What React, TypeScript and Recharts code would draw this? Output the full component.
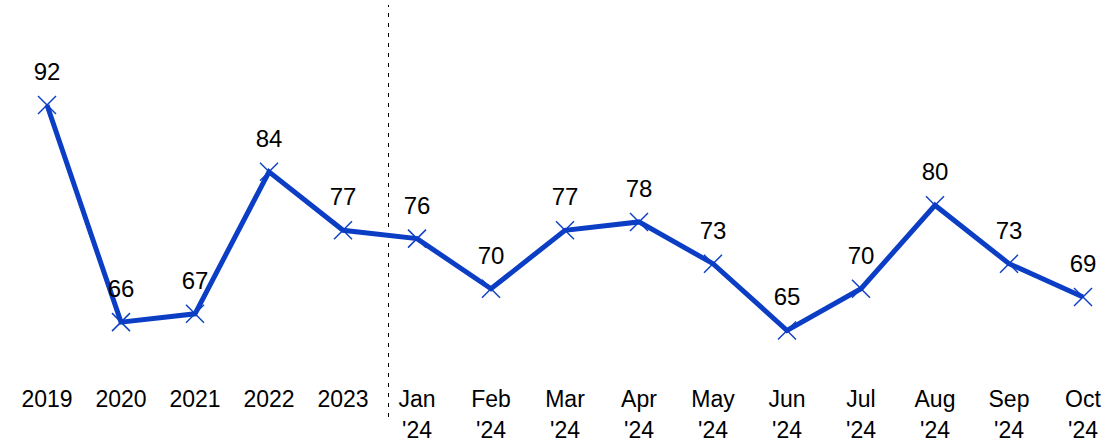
import { LineChart, Line, XAxis, YAxis, ReferenceLine, LabelList } from "recharts";

const periods = [
  "2019", "2020", "2021", "2022", "2023",
  "Jan '24", "Feb '24", "Mar '24", "Apr '24", "May '24",
  "Jun '24", "Jul '24", "Aug '24", "Sep '24", "Oct '24",
];
const scores = [92, 66, 67, 84, 77, 76, 70, 77, 78, 73, 65, 70, 80, 73, 69];

const data = periods.map((p, i) => ({ idx: i, label: p, score: scores[i] }));

const BLUE = "#0b3ec4";
const FONT = "'Liberation Sans', Arial, sans-serif";

function CrossDot(props: any) {
  const { cx, cy } = props;
  const s = 9;
  return (
    <g>
      <line x1={cx - s} y1={cy - s} x2={cx + s} y2={cy + s} stroke={BLUE} strokeWidth={1.5} />
      <line x1={cx - s} y1={cy + s} x2={cx + s} y2={cy - s} stroke={BLUE} strokeWidth={1.5} />
    </g>
  );
}

function PeriodTick(props: any) {
  const { x, y, payload } = props;
  const parts = String(periods[payload.value] ?? "").split(" ");
  return (
    <g>
      {parts.map((t, i) => (
        <text
          key={i}
          x={x}
          y={y - 10 + i * 31}
          textAnchor="middle"
          fontSize={23}
          fontFamily={FONT}
          fill="#000"
        >
          {t}
        </text>
      ))}
    </g>
  );
}

function ValueLabel(props: any) {
  const { x, y, value } = props;
  return (
    <text x={x} y={y - 25} textAnchor="middle" fontSize={24} fontFamily={FONT} fill="#000">
      {value}
    </text>
  );
}

export default function App() {
  return (
    <div style={{ position: "absolute", left: 0, top: 0, background: "#fff" }}>
      <LineChart
        width={1109}
        height={445}
        data={data}
        margin={{ top: 5, right: 26, bottom: 0, left: 47 }}
      >
        <XAxis
          dataKey="idx"
          type="number"
          domain={[0, 14]}
          ticks={data.map((d) => d.idx)}
          interval={0}
          axisLine={false}
          tickLine={false}
          tickSize={0}
          tickMargin={0}
          height={28}
          tick={<PeriodTick />}
        />
        <YAxis hide domain={[54.64, 103.98]} />
        <ReferenceLine
          x={4.615}
          stroke="#000"
          strokeWidth={1}
          strokeDasharray="4 6"
        />
        <Line
          dataKey="score"
          stroke={BLUE}
          strokeWidth={5}
          dot={<CrossDot />}
          activeDot={false}
          isAnimationActive={false}
        >
          <LabelList dataKey="score" content={<ValueLabel />} />
        </Line>
      </LineChart>
    </div>
  );
}
